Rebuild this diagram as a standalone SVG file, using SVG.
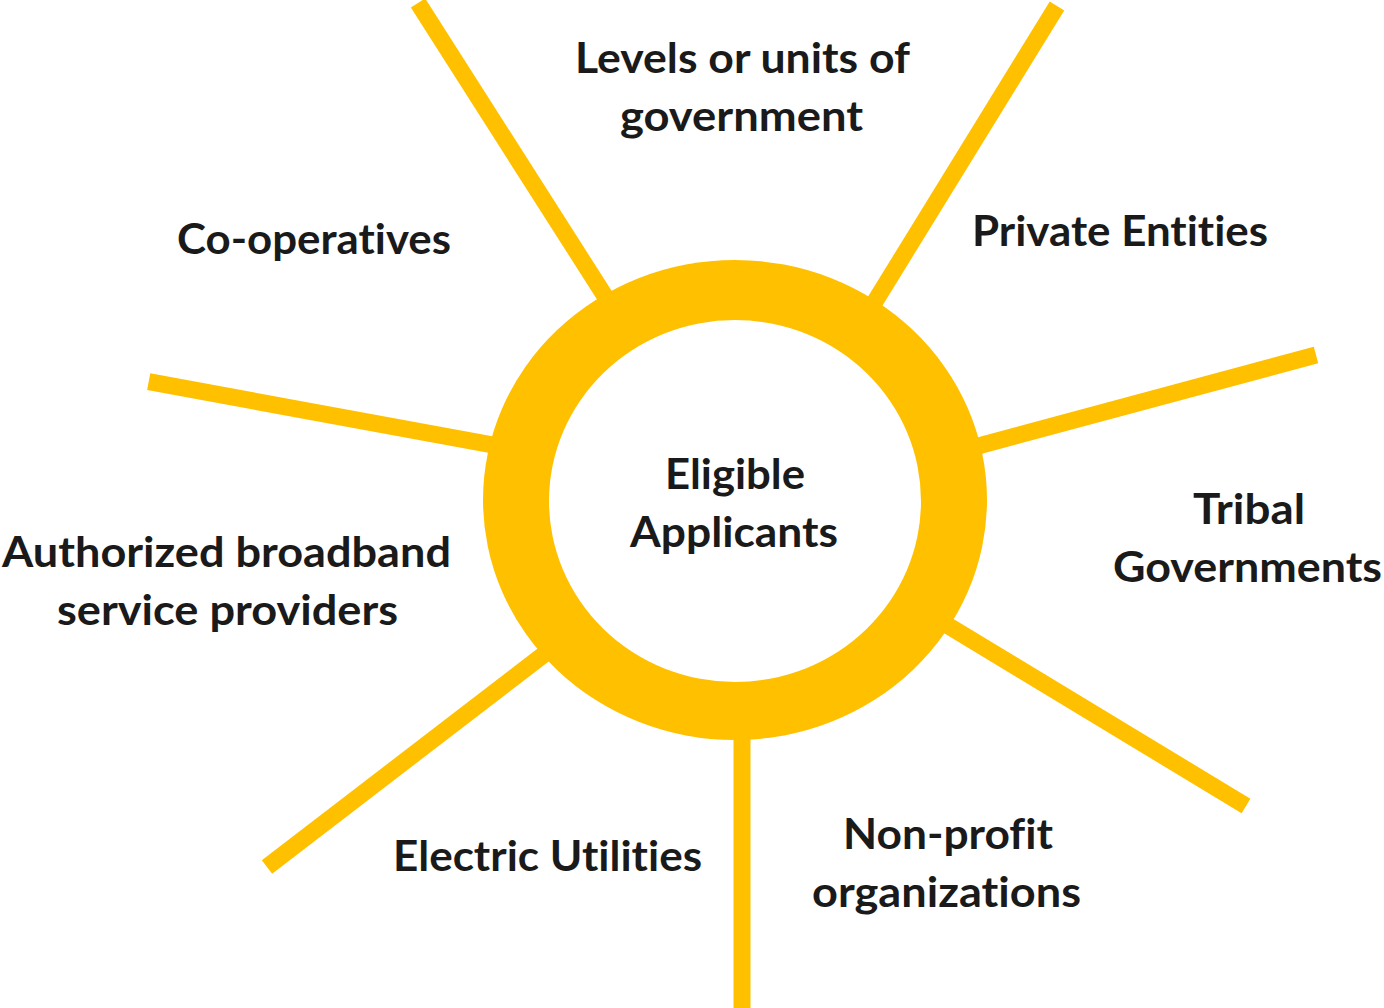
<svg xmlns="http://www.w3.org/2000/svg" width="1384" height="1008" viewBox="0 0 1384 1008">
  <style>
    .ray { stroke: #FFC000; stroke-width: 17; stroke-linecap: butt; fill: none; }
    .lbl { font-family: "Lato", "Open Sans", "Liberation Sans", sans-serif; font-weight: 700; font-size: 42px; fill: #1a1a1a; text-anchor: middle; font-variant-ligatures: none; font-feature-settings: "liga" 0, "clig" 0; }
  </style>
  <rect width="1384" height="1008" fill="#ffffff"/>
  <g id="connectors">
    <line class="ray" x1="418" y1="3" x2="735" y2="500"/>
    <line class="ray" x1="1057" y1="6" x2="802" y2="420"/>
    <line class="ray" x1="1316" y1="355" x2="800" y2="494"/>
    <line class="ray" x1="1246" y1="806" x2="800" y2="536"/>
    <line class="ray" x1="742" y1="1015" x2="742" y2="600"/>
    <line class="ray" x1="267" y1="867" x2="680" y2="550"/>
    <line class="ray" x1="148.7" y1="381.7" x2="680" y2="479.5"/>
  </g>
  <g id="center">
    <ellipse cx="735" cy="500" rx="252" ry="240" fill="#FFC000"/>
    <ellipse cx="735" cy="501" rx="186" ry="181" fill="#ffffff"/>
    <text class="lbl" x="735" y="489" textLength="140" lengthAdjust="spacingAndGlyphs">Eligible</text>
    <text class="lbl" x="734" y="547" textLength="208" lengthAdjust="spacingAndGlyphs">Applicants</text>
  </g>
  <g id="levels">
    <text class="lbl" x="742.5" y="73" textLength="335" lengthAdjust="spacingAndGlyphs">Levels or units of</text>
    <text class="lbl" x="741.5" y="131" textLength="243" lengthAdjust="spacingAndGlyphs">government</text>
  </g>
  <g id="cooperatives">
    <text class="lbl" x="314" y="254" textLength="274" lengthAdjust="spacingAndGlyphs">Co-operatives</text>
  </g>
  <g id="private">
    <text class="lbl" x="1120" y="246" textLength="296" lengthAdjust="spacingAndGlyphs">Private Entities</text>
  </g>
  <g id="tribal">
    <text class="lbl" x="1249" y="524" textLength="112" lengthAdjust="spacingAndGlyphs">Tribal</text>
    <text class="lbl" x="1247.5" y="582" textLength="269" lengthAdjust="spacingAndGlyphs">Governments</text>
  </g>
  <g id="broadband">
    <text class="lbl" x="226.5" y="567" textLength="449" lengthAdjust="spacingAndGlyphs">Authorized broadband</text>
    <text class="lbl" x="227.5" y="625" textLength="341" lengthAdjust="spacingAndGlyphs">service providers</text>
  </g>
  <g id="electric">
    <text class="lbl" x="547.5" y="871" textLength="309" lengthAdjust="spacingAndGlyphs">Electric Utilities</text>
  </g>
  <g id="nonprofit">
    <text class="lbl" x="948" y="849" textLength="210" lengthAdjust="spacingAndGlyphs">Non-profit</text>
    <text class="lbl" x="946.5" y="907" textLength="269" lengthAdjust="spacingAndGlyphs">organizations</text>
  </g>
</svg>
